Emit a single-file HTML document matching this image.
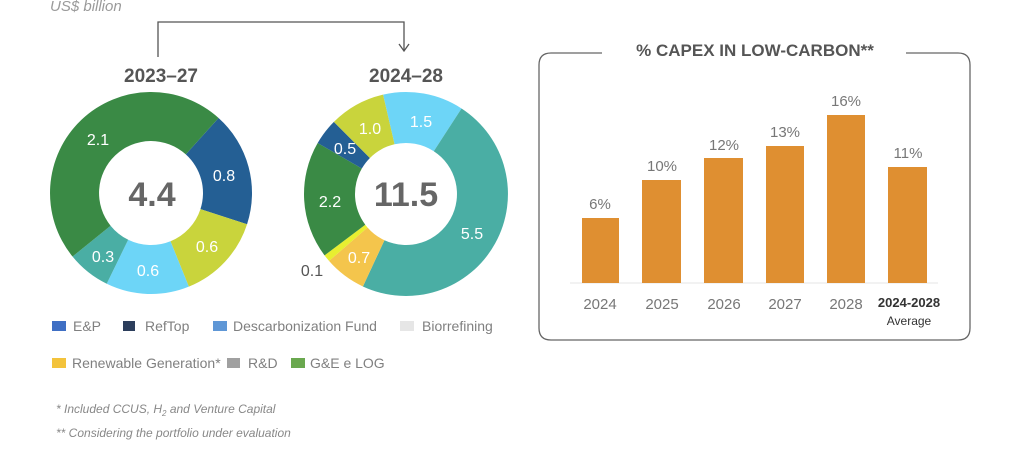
<!DOCTYPE html>
<html><head><meta charset="utf-8"><style>
html,body{margin:0;padding:0;background:#fff;}
svg{display:block;font-family:"Liberation Sans",sans-serif;}
</style></head><body>
<svg id="s" width="1024" height="451" viewBox="0 0 1024 451" xmlns="http://www.w3.org/2000/svg">
<text x="50" y="11" font-size="15" font-style="italic" fill="#9a9a9a">US$ billion</text>
<polyline points="158,57 158,22 404,22 404,50" fill="none" stroke="#555" stroke-width="1.3"/>
<polyline points="399,44 404,51 409,44" fill="none" stroke="#555" stroke-width="1.3"/>
<text x="161" y="82" font-size="19" font-weight="bold" fill="#555" text-anchor="middle">2023–27</text>
<text x="406" y="82" font-size="19" font-weight="bold" fill="#555" text-anchor="middle">2024–28</text>
<g id="d1"></g><g id="d2"></g>
<text x="152" y="206" font-size="34" font-weight="bold" fill="#666" text-anchor="middle">4.4</text>
<text x="406" y="206" font-size="34" font-weight="bold" fill="#666" text-anchor="middle">11.5</text>
<g font-size="16" fill="#fff" text-anchor="middle">
<text x="98" y="145">2.1</text><text x="224" y="181">0.8</text><text x="207" y="252">0.6</text>
<text x="148" y="276">0.6</text><text x="103" y="262">0.3</text>
<text x="421" y="127">1.5</text><text x="370" y="134">1.0</text><text x="345" y="154">0.5</text>
<text x="330" y="207">2.2</text><text x="472" y="239">5.5</text><text x="359" y="263">0.7</text>
</g>
<text x="312" y="276" font-size="16" fill="#555" text-anchor="middle">0.1</text>
<g font-size="14" fill="#808080">
<rect x="52" y="321" width="14" height="10" fill="#3f6fc4"/><text x="73" y="331">E&amp;P</text>
<rect x="123" y="321" width="12" height="10" fill="#2c3e5c"/><text x="145" y="331">RefTop</text>
<rect x="213" y="321" width="14" height="10" fill="#5f97d6"/><text x="233" y="331">Descarbonization Fund</text>
<rect x="400" y="321" width="14" height="10" fill="#e6e6e6"/><text x="422" y="331">Biorrefining</text>
<rect x="52" y="358" width="14" height="10" fill="#f3c33c"/><text x="72" y="368">Renewable Generation*</text>
<rect x="227" y="358" width="13" height="10" fill="#a0a0a0"/><text x="248" y="368">R&amp;D</text>
<rect x="291" y="358" width="14" height="10" fill="#6aa84f"/><text x="310" y="368">G&amp;E e LOG</text>
</g>
<g font-size="12" font-style="italic" fill="#888">
<text x="56" y="413">* Included CCUS, H<tspan font-size="8" dy="3">2</tspan><tspan dy="-3"> and Venture Capital</tspan></text>
<text x="56" y="437">** Considering the portfolio under evaluation</text>
</g>
<path d="M602,53 H551 Q539,53 539,65 V328 Q539,340 551,340 H958 Q970,340 970,328 V65 Q970,53 958,53 H906" fill="none" stroke="#666" stroke-width="1.3"/>
<text x="755" y="56" font-size="17" font-weight="bold" fill="#555" text-anchor="middle">% CAPEX IN LOW-CARBON**</text>
<line x1="570" y1="283" x2="938" y2="283" stroke="#e6e6e6" stroke-width="1"/>
<g fill="#df8f31">
<rect x="582" y="218" width="37" height="65"/><rect x="642" y="180" width="39" height="103"/>
<rect x="704" y="158" width="39" height="125"/><rect x="766" y="146" width="38" height="137"/>
<rect x="827" y="115" width="38" height="168"/><rect x="888" y="167" width="39" height="116"/>
</g>
<g font-size="15" fill="#777" text-anchor="middle">
<text x="600" y="209">6%</text><text x="662" y="171">10%</text><text x="724" y="150">12%</text>
<text x="785" y="137">13%</text><text x="846" y="106">16%</text><text x="908" y="158">11%</text>
<text x="600" y="309">2024</text><text x="662" y="309">2025</text><text x="724" y="309">2026</text>
<text x="785" y="309">2027</text><text x="846" y="309">2028</text>
</g>
<text x="909" y="307" font-size="13" font-weight="bold" fill="#333" text-anchor="middle">2024-2028</text>
<text x="909" y="325" font-size="12" fill="#333" text-anchor="middle">Average</text>
</svg>
<script>
function arc(cx,cy,R,r,a0,a1,col){var t=function(a,rr){var x=a*Math.PI/180;return (cx+rr*Math.sin(x)).toFixed(2)+','+(cy-rr*Math.cos(x)).toFixed(2);};
var l=(a1-a0)>180?1:0;return '<path fill="'+col+'" d="M'+t(a0,R)+' A'+R+','+R+' 0 '+l+' 1 '+t(a1,R)+' L'+t(a1,r)+' A'+r+','+r+' 0 '+l+' 0 '+t(a0,r)+' Z"/>';}
var d1=[[42,108,'#245f94'],[108,158,'#c9d43c'],[158,206,'#6dd5f7'],[206,231,'#4aaea4'],[231,402,'#3a8a45']];
var d2=[[-13,33,'#6dd5f7'],[33,205,'#4aaea4'],[205,229,'#f4c54c'],[229,233,'#e8ef30'],[233,300,'#3a8a45'],[300,315,'#245f94'],[315,347,'#c9d43c']];
var h='';d1.forEach(function(s){h+=arc(151,193,101,52,s[0],s[1],s[2]);});
document.getElementById('d1').innerHTML=h;h='';
d2.forEach(function(s){h+=arc(406,194,102,51,s[0],s[1],s[2]);});
document.getElementById('d2').innerHTML=h;
</script>
</body></html>
